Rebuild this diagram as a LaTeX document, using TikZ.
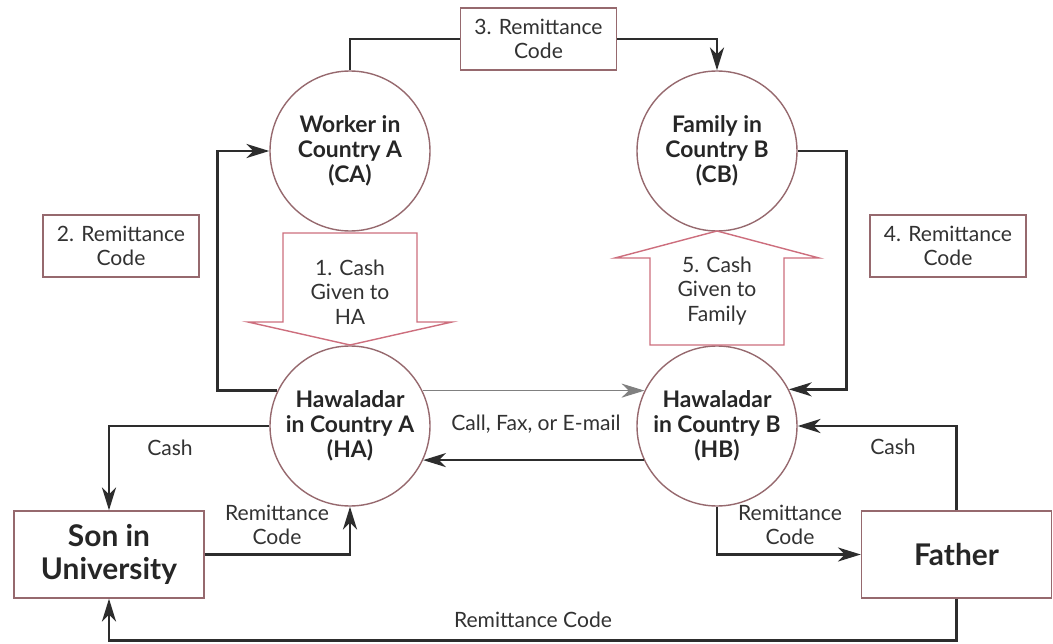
\documentclass[tikz,border=0pt]{standalone}
\usepackage{fontspec}
\setmainfont{Lato}
\usetikzlibrary{arrows.meta}
\definecolor{rimcol}{RGB}{150,105,110}
\definecolor{arrowrim}{RGB}{205,110,125}
\definecolor{linecol}{RGB}{45,45,45}
\definecolor{txtcol}{RGB}{50,50,50}

\begin{document}
\begin{tikzpicture}[line width=1.4pt, >={Stealth[length=13pt,width=8pt,inset=4pt]}, font=\fontsize{12}{13.8}\selectfont, text=txtcol]
        \tikzstyle{party}=[circle,draw=rimcol,line width=0.8pt,minimum size=3.2cm,inner sep=0pt,align=center,font=\fontsize{13}{14.4}\selectfont\bfseries,text=black!85]
        \tikzstyle{codebox}=[rectangle,draw=rimcol,line width=0.8pt,minimum width=3.12cm,minimum height=1.24cm,inner sep=0pt,align=center]
        \tikzstyle{person}=[rectangle,draw=rimcol,line width=0.8pt,minimum width=3.8cm,minimum height=1.74cm,inner sep=0pt,align=center,font=\fontsize{17}{18.5}\selectfont\bfseries,text=black!85]
        \tikzstyle{lbl}=[align=center,inner sep=1pt]
        \tikzstyle{cashshape}=[draw=arrowrim,line width=0.8pt,fill=white]
        \tikzstyle{link}=[draw=linecol]

        \useasboundingbox (0,0) rectangle (21.06,-12.88);

        \node[party] (ca) at (7.0,-3.02) {Worker in\\Country A\\(CA)};
        \node[party, right of=ca, node distance=7.34cm] (cb) {Family in\\Country B\\(CB)};
        \node[party, below of=ca, node distance=5.5cm] (ha) {Hawaladar\\in Country A\\(HA)};
        \node[party, below of=cb, node distance=5.5cm] (hb) {Hawaladar\\in Country B\\(HB)};

        \node[codebox] (code3) at (10.77,-0.78) {3. Remittance\\Code};
        \node[codebox] (code2) at (2.42,-4.92) {2. Remittance\\Code};
        \node[codebox] (code4) at (18.96,-4.92) {4. Remittance\\Code};

        \node[person] (son) at (2.18,-11.09) {Son in\\University};
        \node[person] (father) at (19.13,-11.09) {Father};

        % cash handed over
        \draw[cashshape] (5.66,-4.66) -- (8.34,-4.66) -- (8.34,-6.44) -- (9.04,-6.44) -- (7.0,-6.9) -- (4.96,-6.44) -- (5.66,-6.44) -- cycle;
        \node[lbl] (cash1) at (7.0,-5.84) {1. Cash\\Given to\\HA};
        \draw[cashshape] (13.0,-6.9) -- (15.68,-6.9) -- (15.68,-5.16) -- (16.38,-5.16) -- (14.34,-4.62) -- (12.3,-5.16) -- (13.0,-5.16) -- cycle;
        \node[lbl] (cash5) at (14.34,-5.82) {5. Cash\\Given to\\Family};

        \node[lbl] (cashl) at (3.4,-8.96) {Cash};
        \node[lbl] (cashr) at (17.86,-8.94) {Cash};
        \node[lbl] (codel) at (5.54,-10.5) {Remittance\\Code};
        \node[lbl] (coder) at (15.8,-10.5) {Remittance\\Code};
        \node[lbl] (msg) at (10.72,-8.48) {Call, Fax, or E-mail};
        \node[lbl] (codeb) at (10.66,-12.4) {Remittance Code};

        \draw[link] (ca.north) |- (code3.west);
        \draw[link,->] (code3.east) -| (cb.north);
        \draw[link,->] (cb.east) -- ++(0.98,0) |- (hb.27);
        \draw[link,->] (ha.154) -- ++(-1.2,0) |- (ca.west);
        \draw[->,draw=gray,line width=0.8pt] (ha.26) -- (hb.154);
        \draw[link,->] (hb.205) -- (ha.335);
        \draw[link,->] (ha.west) -| (son.north);
        \draw[link,->] (son.east) -| (ha.south);
        \draw[link,->] (hb.south) |- (father.west);
        \draw[link,->] (father.north) |- (hb.east);
        \draw[link,->] (father.south) -- ++(0,-0.84) -| (son.south);
\end{tikzpicture}
\end{document}
